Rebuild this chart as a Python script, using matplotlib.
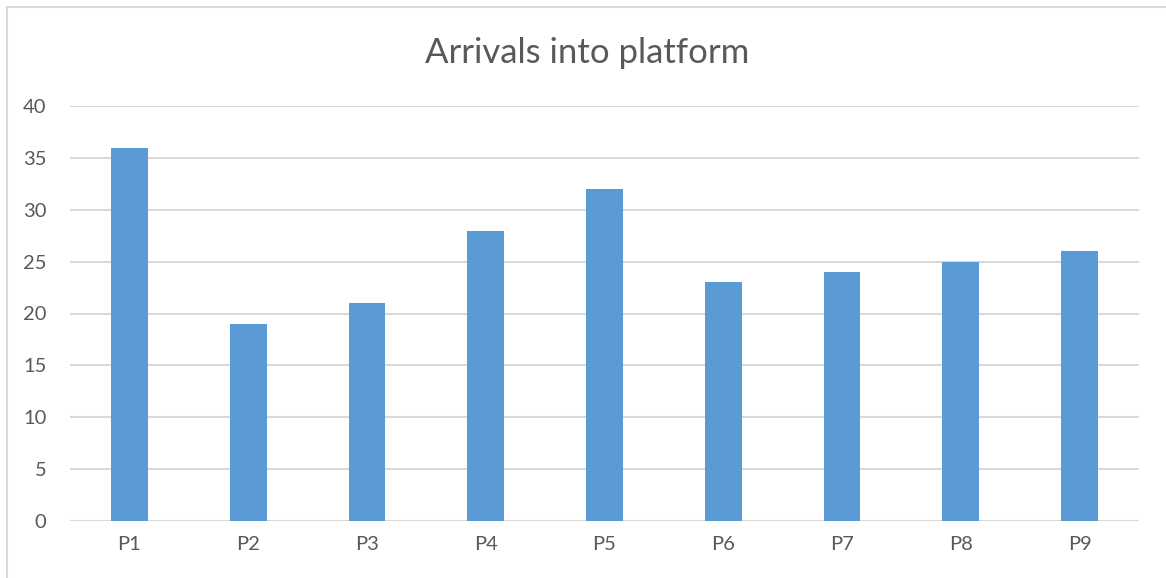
import matplotlib.pyplot as plt
from matplotlib.lines import Line2D

platforms = ['P1', 'P2', 'P3', 'P4', 'P5', 'P6', 'P7', 'P8', 'P9']
arrivals = [36, 19, 21, 28, 32, 23, 24, 25, 26]
yticks = [0, 5, 10, 15, 20, 25, 30, 35, 40]

plt.rcParams['font.family'] = ['Lato', 'DejaVu Sans']
W, H = 1166, 578
fig = plt.figure(figsize=(W / 100, H / 100), dpi=100)
ax = fig.add_axes([70 / W, 1 - 521 / H, (1139 - 70) / W, (521 - 106) / H])

x = range(len(platforms))
ax.bar(x, arrivals, width=0.31, color='#5B9BD5', zorder=3)
ax.set_xlim(-0.5, len(platforms) - 0.5)
ax.set_ylim(0, 40)
ax.set_yticks(yticks)
ax.set_xticks(list(x))
ax.set_xticklabels(platforms)
ax.grid(axis='y', color='#D9D9D9', linewidth=1.5, zorder=0)
for s in ax.spines.values():
    s.set_visible(False)
ax.tick_params(length=0, labelsize=14.5, labelcolor='#595959')
ax.tick_params(axis='y', pad=17)
ax.tick_params(axis='x', pad=11)

fig.text(587 / W, 1 - 53 / H, 'Arrivals into platform', ha='center', va='center',
         fontsize=25, color='#595959')

# chart frame (only left and top visible in the crop)
fig.add_artist(Line2D([6.5 / W, 6.5 / W], [0, 1 - 7 / H], color='#D9D9D9', lw=1.5))
fig.add_artist(Line2D([6.5 / W, 1], [1 - 7 / H, 1 - 7 / H], color='#D9D9D9', lw=1.5))

fig.savefig('out.png', dpi=100)
